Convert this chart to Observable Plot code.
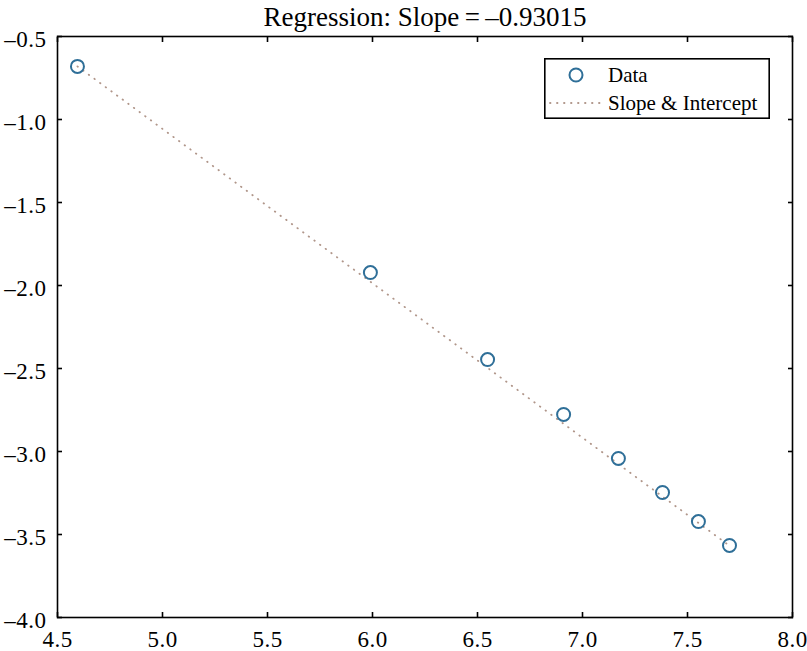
<!DOCTYPE html>
<html>
<head>
<meta charset="utf-8">
<script src="https://cdn.jsdelivr.net/npm/d3@7"></script>
<script src="https://cdn.jsdelivr.net/npm/@observablehq/plot@0.6"></script>
<style>
  body { margin: 0; background: #fff; }
  #wrap { position: relative; width: 807px; height: 651px; overflow: hidden; }
  #legend { position: absolute; left: 544px; top: 58px; }
  #wrap g[aria-label="x-axis tick label"] text,
  #wrap g[aria-label="y-axis tick label"] text { letter-spacing: 0.5px; }
</style>
</head>
<body>
<div id="wrap"></div>
<script>
// ---- data ----
const titleText = "Regression: Slope\u2009=\u2009\u20130.93015";
const dataX = [4.595, 5.990, 6.548, 6.910, 7.171, 7.381, 7.552, 7.700];
const dataY = [-0.680, -1.922, -2.446, -2.777, -3.042, -3.247, -3.422, -3.566];
const fitX = [4.595, 7.700];
const fitY = [-0.680, -3.568];
const xTicks = [4.5, 5.0, 5.5, 6.0, 6.5, 7.0, 7.5, 8.0];
const yTicks = [-4.0, -3.5, -3.0, -2.5, -2.0, -1.5, -1.0, -0.5];
const legendLabels = ["Data", "Slope & Intercept"];

const dotColor = "#2f6f98";
const lineColor = "#b0968a";
const serif = "'Liberation Serif', 'Times New Roman', Times, serif";
const fmt = d => d.toFixed(1).replace("-", "\u2013");
const blank = () => "";

const points = dataX.map((x, i) => ({x, y: dataY[i]}));
const fit = fitX.map((x, i) => ({x, y: fitY[i]}));

const chart = Plot.plot({
  width: 807,
  height: 651,
  marginTop: 36,
  marginBottom: 34,
  marginLeft: 57,
  marginRight: 15,
  style: {fontFamily: serif, fontSize: "23px", color: "#000", background: "#fff", overflow: "visible"},
  x: {domain: [4.5, 8], label: null},
  y: {domain: [-4, -0.5], label: null},
  marks: [
    Plot.line(fit, {x: "x", y: "y", stroke: lineColor, strokeWidth: 1.8, strokeDasharray: "0.5 6.5", strokeLinecap: "round"}),
    Plot.dot(points, {x: "x", y: "y", r: 6.5, stroke: dotColor, strokeWidth: 2, fill: "none"}),
    Plot.frame({stroke: "#000", strokeWidth: 1.6}),
    Plot.axisX(xTicks, {anchor: "bottom", tickSize: 0, tickPadding: 13, tickFormat: fmt, fontSize: 23, label: null}),
    Plot.axisX(xTicks, {anchor: "bottom", tickSize: -5, tickFormat: blank, label: null, strokeWidth: 1.6}),
    Plot.axisX(xTicks, {anchor: "top", tickSize: -5, tickFormat: blank, label: null, strokeWidth: 1.6}),
    Plot.axisY(yTicks, {anchor: "left", tickSize: 0, tickPadding: 11, tickFormat: fmt, fontSize: 23, dy: 3, label: null}),
    Plot.axisY(yTicks, {anchor: "left", tickSize: -5, tickFormat: blank, label: null, strokeWidth: 1.6}),
    Plot.axisY(yTicks, {anchor: "right", tickSize: -5, tickFormat: blank, label: null, strokeWidth: 1.6}),
    Plot.text([titleText], {frameAnchor: "top", lineAnchor: "middle", dy: -19, fontSize: 27, fill: "#000"})
  ]
});

const wrap = document.getElementById("wrap");
wrap.appendChild(chart);

// legend overlay inside the plot area
const lw = 226, lh = 61;
const leg = d3.create("svg")
  .attr("id", "legend")
  .attr("width", lw)
  .attr("height", lh)
  .style("font-family", serif)
  .style("font-size", "21px");
leg.append("rect").attr("x", 0.8).attr("y", 0.8).attr("width", lw - 1.6).attr("height", lh - 1.6)
  .attr("fill", "#fff").attr("stroke", "#000").attr("stroke-width", 1.6);
leg.append("circle").attr("cx", 32).attr("cy", 17).attr("r", 6.5)
  .attr("fill", "none").attr("stroke", dotColor).attr("stroke-width", 2);
leg.append("line").attr("x1", 6).attr("x2", 56).attr("y1", 45).attr("y2", 45)
  .attr("stroke", lineColor).attr("stroke-width", 1.8).attr("stroke-dasharray", "0.5 6.5").attr("stroke-linecap", "round");
leg.selectAll("text.lbl").data(legendLabels).join("text")
  .attr("class", "lbl")
  .attr("x", 64)
  .attr("y", (d, i) => 24 + i * 28)
  .attr("fill", "#000")
  .text(d => d);
wrap.appendChild(leg.node());
</script>
</body>
</html>
